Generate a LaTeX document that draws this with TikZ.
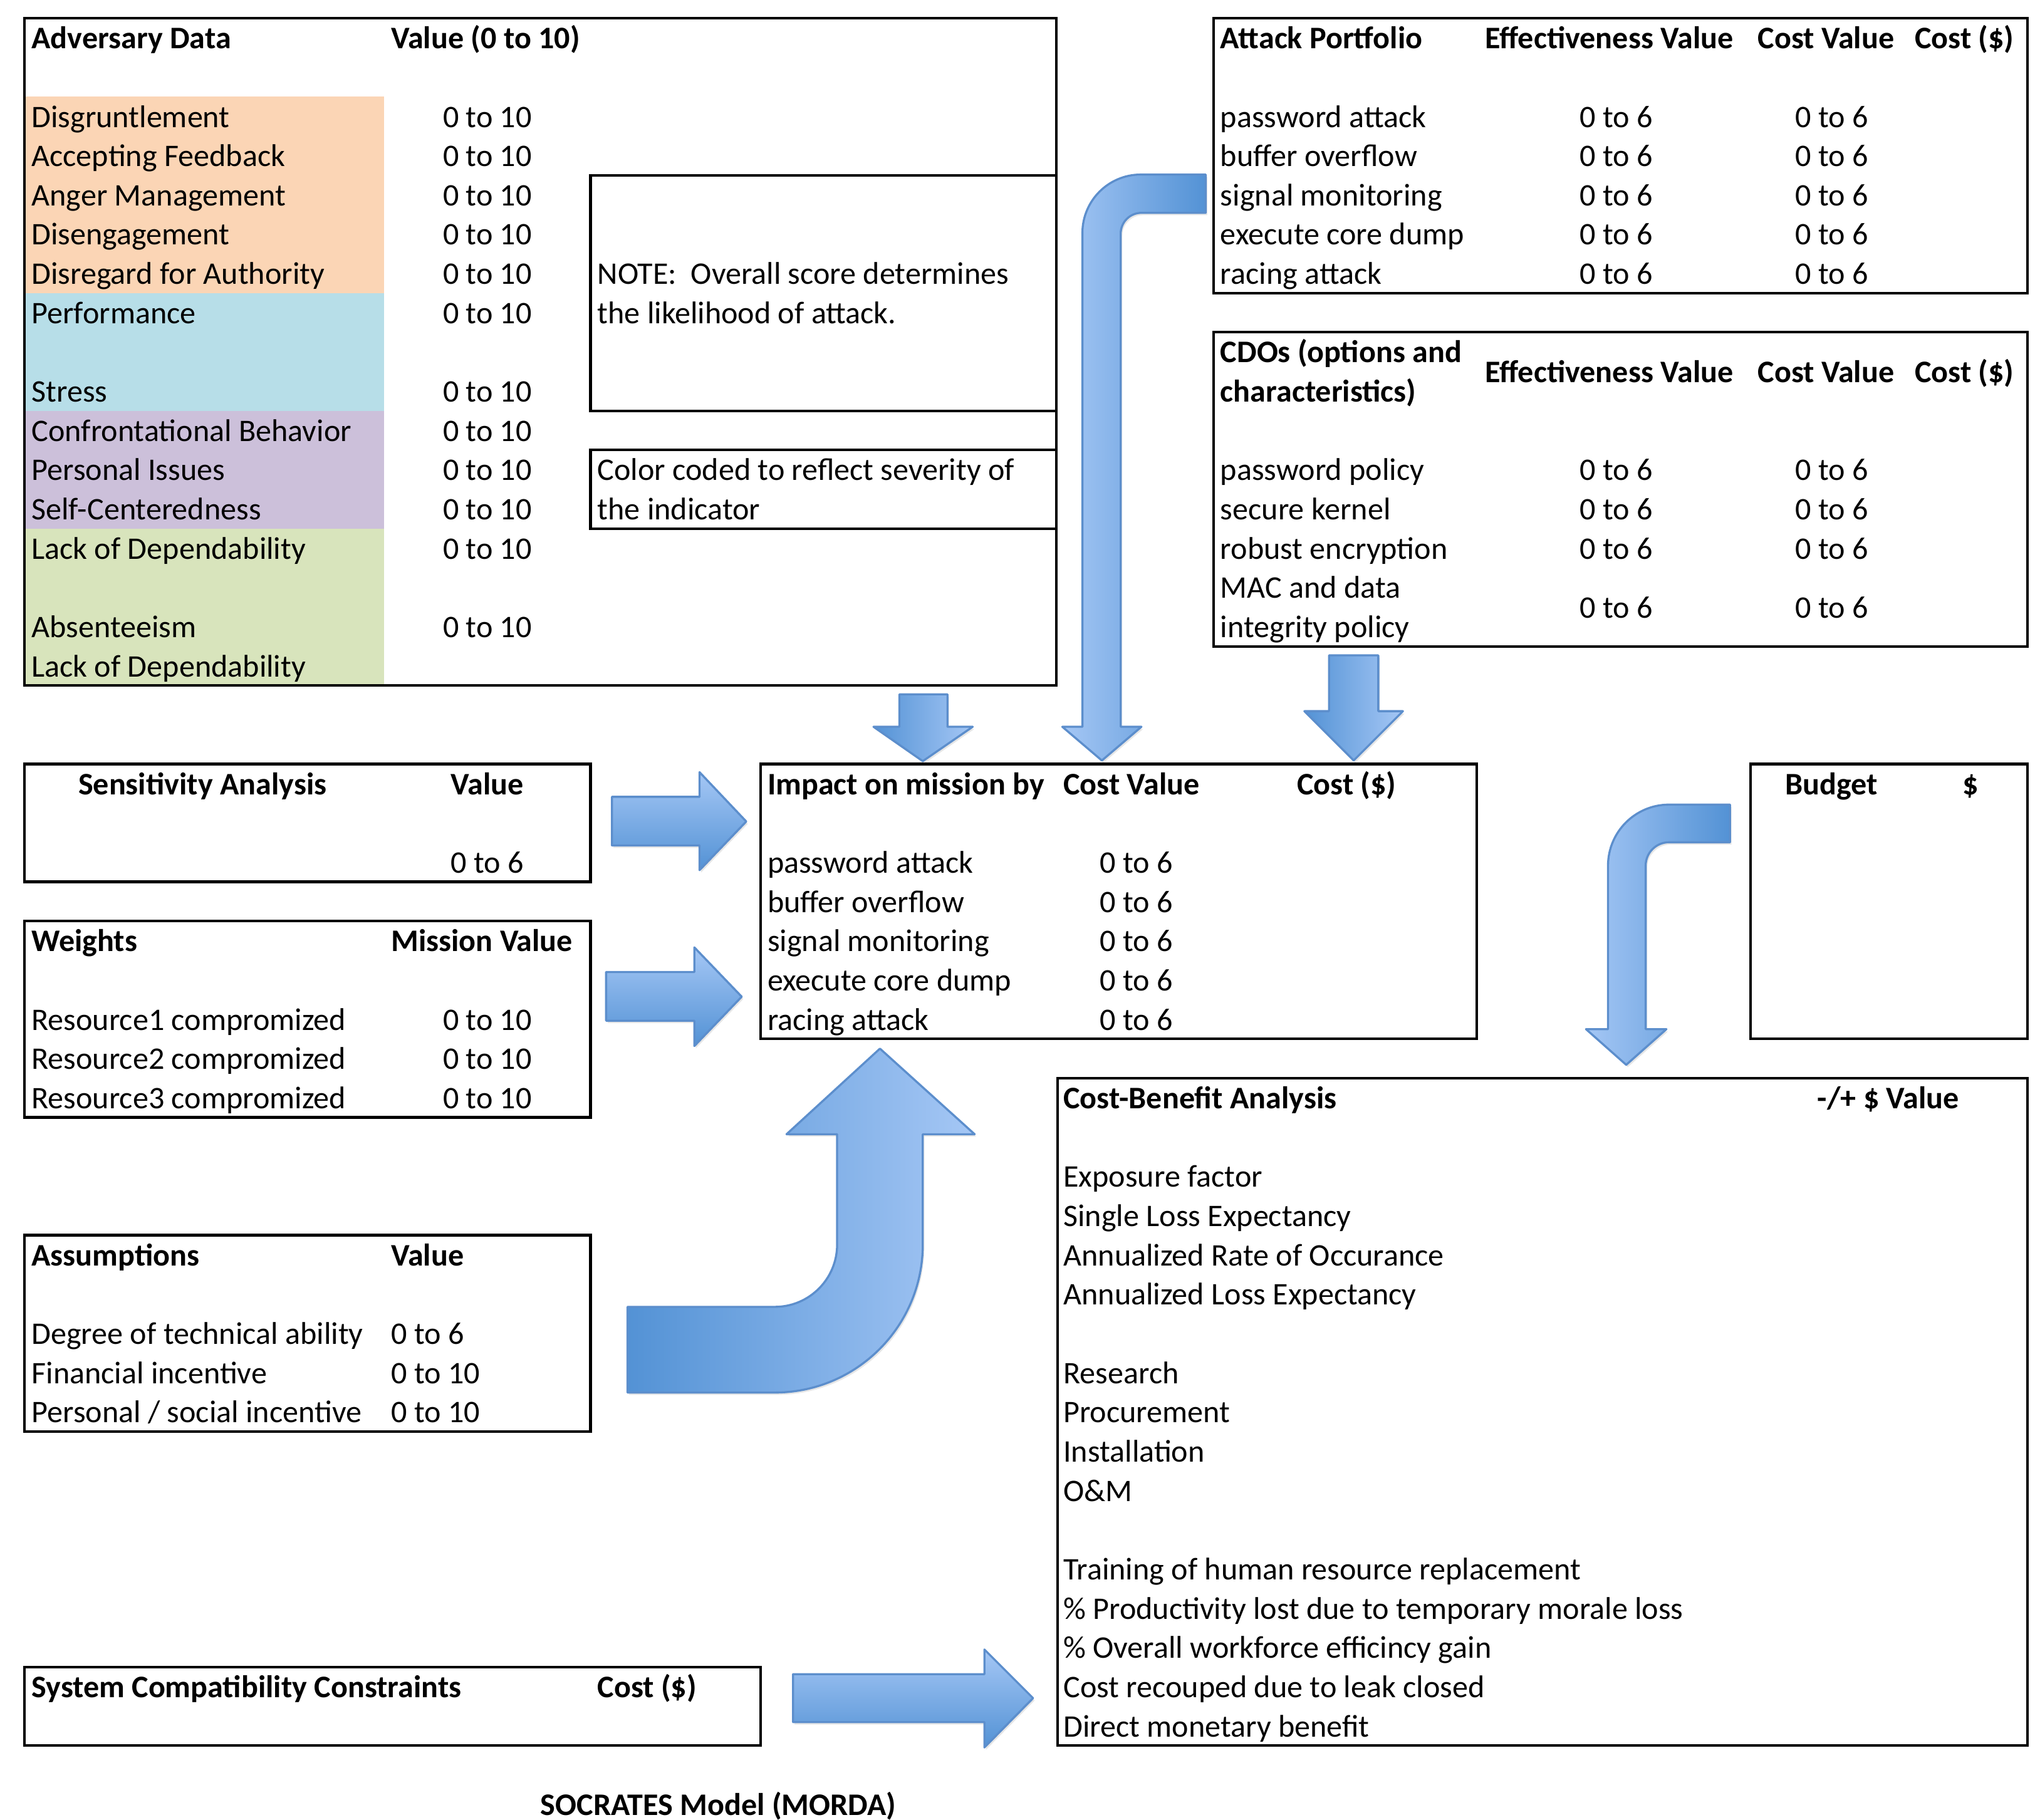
\documentclass[tikz,border=0pt]{standalone}
\usepackage{fontspec}
\setmainfont{Carlito}
\usetikzlibrary{shadows}

\definecolor{arrdark}{RGB}{83,146,213}
\definecolor{arrlight}{RGB}{165,199,245}
\definecolor{arrline}{RGB}{92,142,204}
\definecolor{peach}{RGB}{251,213,181}
\definecolor{aqua}{RGB}{183,222,232}
\definecolor{lilac}{RGB}{204,192,218}
\definecolor{sage}{RGB}{216,228,188}

\tikzset{
  txt/.style={anchor=base west, inner sep=0pt, font=\fontsize{12.1}{14}\selectfont},
  hdr/.style={txt, font=\fontsize{12.1}{14}\selectfont\bfseries},
  box/.style={draw, line width=1pt},
  blk/.style={draw=arrline, line width=0.8pt, line join=round,
    drop shadow={opacity=0.2, shadow xshift=0.6pt, shadow yshift=-0.9pt}},
}

\begin{document}
\begin{tikzpicture}[x=0.5pt, y=-0.5pt]
  \useasboundingbox (0,0) rectangle (1568,1402);

  % adversary data
  \fill[peach] (19,74.5) rectangle (296,225.75);
  \fill[aqua] (19,225.75) rectangle (296,316.5);
  \fill[lilac] (19,316.5) rectangle (296,407.25);
  \fill[sage] (19,407.25) rectangle (296,528.25);
  \draw[box] (19,14) rectangle (814,528.25);
  \node[hdr] (advhead) at (24,37.5) {Adversary Data};
  \node[hdr] (advvalhead) at (301,37.5) {Value (0 to 10)};
  \foreach \r/\t [count=\i] in {2/Disgruntlement, 3/Accepting Feedback, 4/Anger Management,
      5/Disengagement, 6/Disregard for Authority, 7/Performance, 9/Stress,
      10/Confrontational Behavior, 11/Personal Issues, 12/Self-Centeredness,
      13/Lack of Dependability, 15/Absenteeism, 16/Lack of Dependability}
    \node[txt] (adv\i) at (24,{37.5+30.25*\r}) {\t};
  \foreach \r [count=\i] in {2,3,4,5,6,7,9,10,11,12,13,15}
    \node[txt] (advval\i) at (341,{37.5+30.25*\r}) {0 to 10};

  \draw[box] (455,135) rectangle (814,316.5);
  \node[txt] (note1) at (460,{37.5+30.25*6}) {NOTE:\ \ Overall score determines};
  \node[txt] (note2) at (460,{37.5+30.25*7}) {the likelihood of attack.};
  \draw[box] (455,346.75) rectangle (814,407.25);
  \node[txt] (color1) at (460,{37.5+30.25*11}) {Color coded to reflect severity of};
  \node[txt] (color2) at (460,{37.5+30.25*12}) {the indicator};

  % attack portfolio
  \draw[box] (935,14) rectangle (1562,225.75);
  \node[hdr] (apthead) at (940,37.5) {Attack Portfolio};
  \node[hdr] (apteff) at (1144,37.5) {Effectiveness Value};
  \node[hdr] (aptcv) at (1354,37.5) {Cost Value};
  \node[hdr] (aptcost) at (1475,37.5) {Cost (\$)};
  \foreach \t [count=\i] in {password attack, buffer overflow, signal monitoring,
      execute core dump, racing attack} {
    \node[txt] (apt\i) at (940,{37.5+30.25*(\i+1)}) {\t};
    \node[txt] (apteff\i) at (1217,{37.5+30.25*(\i+1)}) {0 to 6};
    \node[txt] (aptcv\i) at (1383,{37.5+30.25*(\i+1)}) {0 to 6};
  }

  % cdos
  \draw[box] (935,256) rectangle (1562,498);
  \node[hdr] (cdohead) at (940,{37.5+30.25*8}) {CDOs (options and};
  \node[hdr] (cdohead2) at (940,{37.5+30.25*9}) {characteristics)};
  \node[hdr] (cdoeff) at (1144,{37.5+30.25*8.5}) {Effectiveness Value};
  \node[hdr] (cdocv) at (1354,{37.5+30.25*8.5}) {Cost Value};
  \node[hdr] (cdocost) at (1475,{37.5+30.25*8.5}) {Cost (\$)};
  \foreach \r/\t [count=\i] in {11/password policy, 12/secure kernel, 13/robust encryption,
      14/MAC and data, 15/integrity policy}
    \node[txt] (cdo\i) at (940,{37.5+30.25*\r}) {\t};
  \foreach \r [count=\i] in {11,12,13,14.5} {
    \node[txt] (cdoeff\i) at (1217,{37.5+30.25*\r}) {0 to 6};
    \node[txt] (cdocv\i) at (1383,{37.5+30.25*\r}) {0 to 6};
  }

  % impact on mission
  \draw[box] (586,588.75) rectangle (1138,800.5);
  \node[hdr] (imphead) at (591,{37.5+30.25*19}) {Impact on mission by};
  \node[hdr] (impcv) at (819,{37.5+30.25*19}) {Cost Value};
  \node[hdr] (impcost) at (999,{37.5+30.25*19}) {Cost (\$)};
  \foreach \t [count=\i] in {password attack, buffer overflow, signal monitoring,
      execute core dump, racing attack} {
    \node[txt] (imp\i) at (591,{37.5+30.25*(\i+20)}) {\t};
    \node[txt] (impcv\i) at (847,{37.5+30.25*(\i+20)}) {0 to 6};
  }

  % sensitivity
  \draw[box] (19,588.75) rectangle (455,679.5);
  \node[hdr] (senshead) at (60,{37.5+30.25*19}) {Sensitivity Analysis};
  \node[hdr] (sensval) at (347,{37.5+30.25*19}) {Value};
  \node[txt] (sens1) at (347,{37.5+30.25*21}) {0 to 6};

  % weights
  \draw[box] (19,709.75) rectangle (455,861);
  \node[hdr] (wgthead) at (24,{37.5+30.25*23}) {Weights};
  \node[hdr] (wgtval) at (301,{37.5+30.25*23}) {Mission Value};
  \foreach \i in {1,2,3} {
    \node[txt] (wgt\i) at (24,{37.5+30.25*(\i+24)}) {Resource\i\ compromized};
    \node[txt] (wgtval\i) at (341,{37.5+30.25*(\i+24)}) {0 to 10};
  }

  % assumptions
  \draw[box] (19,951.75) rectangle (455,1103);
  \node[hdr] (asmhead) at (24,{37.5+30.25*31}) {Assumptions};
  \node[hdr] (asmval) at (301,{37.5+30.25*31}) {Value};
  \foreach \t/\v [count=\i] in {{Degree of technical ability}/0 to 6,
      {Financial incentive}/0 to 10, {Personal / social incentive}/0 to 10} {
    \node[txt] (asm\i) at (24,{37.5+30.25*(\i+32)}) {\t};
    \node[txt] (asmval\i) at (301,{37.5+30.25*(\i+32)}) {\v};
  }

  % budget
  \draw[box] (1349,588.75) rectangle (1562,800.5);
  \node[hdr] (budhead) at (1375,{37.5+30.25*19}) {Budget};
  \node[hdr] (budval) at (1512,{37.5+30.25*19}) {\$};

  % cost-benefit
  \draw[box] (815,830.75) rectangle (1562,1345);
  \node[hdr] (cbahead) at (819,{37.5+30.25*27}) {Cost-Benefit Analysis};
  \node[hdr] (cbaval) at (1400,{37.5+30.25*27}) {-/+ \$ Value};
  \foreach \r/\t [count=\i] in {29/Exposure factor, 30/Single Loss Expectancy,
      31/Annualized Rate of Occurance, 32/Annualized Loss Expectancy,
      34/Research, 35/Procurement, 36/Installation, 37/O\&M,
      39/Training of human resource replacement,
      40/\% Productivity lost due to temporary morale loss,
      41/\% Overall workforce efficincy gain, 42/Cost recouped due to leak closed,
      43/Direct monetary benefit}
    \node[txt] (cba\i) at (819,{37.5+30.25*\r}) {\t};

  % system compatibility
  \draw[box] (19,1284.5) rectangle (586,1345);
  \node[hdr] (syshead) at (24,{37.5+30.25*42}) {System Compatibility Constraints};
  \node[hdr] (syscost) at (460,{37.5+30.25*42}) {Cost (\$)};

  \node[hdr, anchor=base] (title) at (553.5,{37.5+30.25*45}) {SOCRATES Model (MORDA)};

  % block arrows
  \draw[blk, left color=arrdark, right color=arrlight]
    (693,535) -- (730,535) -- (730,560) -- (749.5,560) -- (711,586.5)
    -- (673,560) -- (693,560) -- cycle;
  \draw[blk, left color=arrlight, right color=arrdark]
    (929,134.5) -- (879,134.5) arc [start angle=270, end angle=180, radius=45]
    -- (834,560) -- (818.5,560) -- (849,586) -- (879.5,560) -- (863.5,560)
    -- (863.5,180) arc [start angle=180, end angle=270, radius=16]
    -- (929,164) -- cycle;
  \draw[blk, left color=arrdark, right color=arrlight]
    (1024,505) -- (1062,505) -- (1062,548) -- (1081,548) -- (1043,586)
    -- (1005,548) -- (1024,548) -- cycle;
  \draw[blk, top color=arrlight, bottom color=arrdark]
    (471.5,614) -- (539,614) -- (539,595) -- (575,633) -- (539,670.5)
    -- (539,651.5) -- (471.5,651.5) -- cycle;
  \draw[blk, top color=arrlight, bottom color=arrdark]
    (467,749) -- (535,749) -- (535,730) -- (571.5,768) -- (535,806)
    -- (535,786.5) -- (467,786.5) -- cycle;
  \draw[blk, left color=arrdark, right color=arrlight]
    (483.5,1007) -- (597,1007) arc [start angle=90, end angle=0, radius=48]
    -- (645,874) -- (606,874) -- (678,808) -- (751,874) -- (711,874)
    -- (711,959) arc [start angle=0, end angle=90, radius=114]
    -- (483.5,1073) -- cycle;
  \draw[blk, left color=arrlight, right color=arrdark]
    (1333,620) -- (1286,620) arc [start angle=270, end angle=180, radius=47]
    -- (1239,793) -- (1222,793) -- (1253,820.5) -- (1284,793) -- (1268,793)
    -- (1268,667) arc [start angle=180, end angle=270, radius=18]
    -- (1333,649) -- cycle;
  \draw[blk, top color=arrlight, bottom color=arrdark]
    (611,1290) -- (758.5,1290) -- (758.5,1271) -- (796,1308.5) -- (758.5,1346.5)
    -- (758.5,1327) -- (611,1327) -- cycle;
\end{tikzpicture}
\end{document}
